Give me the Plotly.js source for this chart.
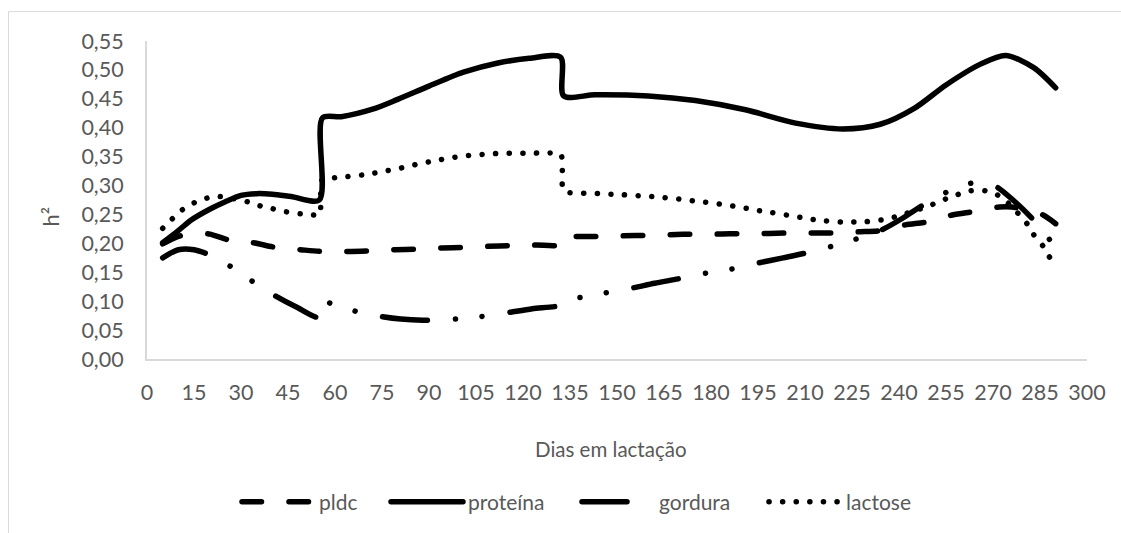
<!DOCTYPE html>
<html>
<head>
<meta charset="utf-8">
<script src="https://cdn.plot.ly/plotly-3.0.1.min.js"></script>
<style>
  html, body { margin: 0; padding: 0; background: #ffffff; }
  #chart { width: 1121px; height: 533px; }
  .js-line { stroke-linecap: round !important; stroke-linejoin: round !important; }
</style>
</head>
<body>
<div id="chart"></div>
<script>
// ---- data ----
const tickDias = [0, 15, 30, 45, 60, 75, 90, 105, 120, 135, 150, 165, 180, 195, 210, 225, 240, 255, 270, 285, 300];

const pldcDias = [5, 10, 15, 20, 26, 34, 41, 49, 56, 64, 71, 79, 86, 94, 101, 109, 116, 124, 132, 133, 137, 145, 152, 160, 167, 175, 182, 190, 197, 205, 212, 220, 227, 234, 242, 249, 257, 264, 272, 276, 281, 286, 290];
const pldcH2   = [0.199, 0.212, 0.218, 0.216, 0.206, 0.201, 0.193, 0.189, 0.186, 0.186, 0.187, 0.189, 0.190, 0.192, 0.193, 0.195, 0.196, 0.197, 0.198, 0.211, 0.212, 0.212, 0.213, 0.214, 0.215, 0.216, 0.216, 0.217, 0.217, 0.218, 0.218, 0.218, 0.220, 0.222, 0.232, 0.237, 0.249, 0.255, 0.263, 0.263, 0.257, 0.249, 0.234];

const proteinaDias = [5, 10, 14, 20, 25, 30, 35, 40, 46, 55, 56, 62, 72, 80, 90, 101, 112, 122, 132, 133, 143, 160, 175, 191, 207, 222, 234, 245, 255, 266, 274, 283, 290];
const proteinaH2   = [0.201, 0.222, 0.240, 0.259, 0.272, 0.283, 0.286, 0.285, 0.281, 0.275, 0.417, 0.419, 0.432, 0.449, 0.472, 0.496, 0.512, 0.520, 0.522, 0.455, 0.457, 0.455, 0.447, 0.431, 0.408, 0.398, 0.406, 0.434, 0.474, 0.510, 0.525, 0.504, 0.469];

const gorduraDias = [5, 10, 15, 20, 27, 34, 41, 48, 55, 56, 60, 67, 74, 81, 88, 95, 102, 109, 116, 123, 132, 133, 140, 147, 155, 162, 170, 178, 187, 195, 203, 210, 218, 226, 234, 241, 247, 255, 263, 270, 277, 283, 288, 290];
const gorduraH2   = [0.175, 0.189, 0.189, 0.180, 0.159, 0.133, 0.109, 0.089, 0.072, 0.100, 0.093, 0.082, 0.074, 0.069, 0.067, 0.068, 0.071, 0.075, 0.081, 0.087, 0.093, 0.100, 0.108, 0.115, 0.123, 0.131, 0.139, 0.148, 0.156, 0.166, 0.175, 0.183, 0.194, 0.207, 0.222, 0.243, 0.264, 0.288, 0.304, 0.301, 0.272, 0.240, 0.207, 0.190];

const lactoseDias = [5, 8, 11, 15, 19, 23, 27, 32, 36, 40, 44, 49, 53, 55, 56, 59, 63, 67, 72, 76, 80, 84, 88, 93, 97, 101, 105, 110, 114, 118, 122, 127, 132, 133, 137, 141, 145, 149, 154, 158, 162, 167, 171, 175, 180, 184, 188, 192, 196, 201, 205, 209, 213, 218, 222, 226, 231, 235, 239, 243, 247, 251, 255, 259, 263, 268, 272, 275, 278, 281, 283, 286, 288, 290];
const lactoseH2   = [0.226, 0.242, 0.257, 0.270, 0.278, 0.281, 0.278, 0.272, 0.265, 0.260, 0.255, 0.251, 0.249, 0.249, 0.311, 0.313, 0.315, 0.317, 0.321, 0.325, 0.329, 0.334, 0.339, 0.344, 0.348, 0.351, 0.353, 0.355, 0.356, 0.356, 0.356, 0.356, 0.354, 0.291, 0.287, 0.2865, 0.286, 0.2846, 0.2836, 0.282, 0.2807, 0.278, 0.276, 0.273, 0.270, 0.267, 0.2636, 0.260, 0.256, 0.252, 0.248, 0.2446, 0.241, 0.238, 0.237, 0.237, 0.238, 0.241, 0.246, 0.253, 0.260, 0.268, 0.277, 0.285, 0.291, 0.2905, 0.282, 0.269, 0.252, 0.233, 0.215, 0.195, 0.1765, 0.166];

const seriesNames = ['pldc', 'proteína', 'gordura', 'lactose'];
const xTitle = 'Dias em lactação';
const yTitle = 'h²';

// ---- styling ----
const FONT = 'Lato, "Open Sans", sans-serif';
const GREY = '#595959';
const LW = 5.5;
const smooth = 0.8;

const traces = [
  { x: pldcDias, y: pldcH2, name: seriesNames[0], mode: 'lines', legend: 'legend',
    line: { color: '#000000', width: LW, dash: '19.5px,27.5px', shape: 'spline', smoothing: smooth } },
  { x: proteinaDias, y: proteinaH2, name: seriesNames[1], mode: 'lines', legend: 'legend2',
    line: { color: '#000000', width: LW, dash: 'solid', shape: 'spline', smoothing: smooth } },
  { x: gorduraDias, y: gorduraH2, name: seriesNames[2], mode: 'lines', legend: 'legend3',
    line: { color: '#000000', width: LW, dash: '45px,28px,0.1px,26.5px,0.1px,28.25px', shape: 'spline', smoothing: smooth } },
  { x: lactoseDias, y: lactoseH2, name: seriesNames[3], mode: 'lines', legend: 'legend4',
    line: { color: '#000000', width: LW, dash: '0.1px,13.5px', shape: 'spline', smoothing: smooth } }
];

// plot area: x 147..1087, y 41..360
const PW = 940, PH = 319;
function legendAt(px) {
  return {
    orientation: 'h', x: (px - 147) / PW, xanchor: 'left', y: (360 - 502) / PH, yanchor: 'middle',
    font: { family: FONT, size: 21, color: GREY }, itemwidth: 72, bgcolor: 'rgba(0,0,0,0)', borderwidth: 0
  };
}
const layout = {
  width: 1121, height: 533,
  margin: { l: 147, r: 34, t: 41, b: 173, pad: 0 },
  paper_bgcolor: '#ffffff', plot_bgcolor: '#ffffff',
  separators: ',.',
  font: { family: FONT, size: 21, color: GREY },
  showlegend: true,
  legend: legendAt(237),
  legend2: legendAt(386),
  legend3: legendAt(577),
  legend4: legendAt(764),
  xaxis: {
    range: [0, 300], tickmode: 'array', tickvals: tickDias, ticktext: tickDias.map(String),
    showline: true, linecolor: '#d9d9d9', linewidth: 2, showgrid: false, zeroline: false,
    ticks: '', ticklabelstandoff: 13, tickfont: { family: FONT, size: 21.5, color: GREY }, fixedrange: true
  },
  yaxis: {
    range: [0, 0.55], dtick: 0.05, tick0: 0, tickformat: '.2f',
    showline: true, linecolor: '#d9d9d9', linewidth: 2, showgrid: false, zeroline: false,
    ticks: '', ticklabelstandoff: 17, tickfont: { family: FONT, size: 21.5, color: GREY }, fixedrange: true
  },
  annotations: [
    { text: yTitle, xref: 'paper', yref: 'paper', x: (50 - 147) / PW, y: (360 - 217) / PH,
      xanchor: 'center', yanchor: 'middle', textangle: -90, showarrow: false,
      font: { family: FONT, size: 22, color: GREY } },
    { text: xTitle, xref: 'paper', yref: 'paper', x: (611 - 147) / PW, y: (360 - 450) / PH,
      xanchor: 'center', yanchor: 'middle', showarrow: false,
      font: { family: FONT, size: 20.5, color: GREY } }
  ],
  shapes: [
    { type: 'rect', xref: 'paper', yref: 'paper', layer: 'below',
      x0: (8.5 - 147) / PW, x1: (1140 - 147) / PW, y0: (360 - 560) / PH, y1: (360 - 11.5) / PH,
      line: { color: '#d9d9d9', width: 1 }, fillcolor: 'rgba(0,0,0,0)' }
  ]
};

Plotly.newPlot('chart', traces, layout, { displayModeBar: false, staticPlot: true });
</script>
</body>
</html>
